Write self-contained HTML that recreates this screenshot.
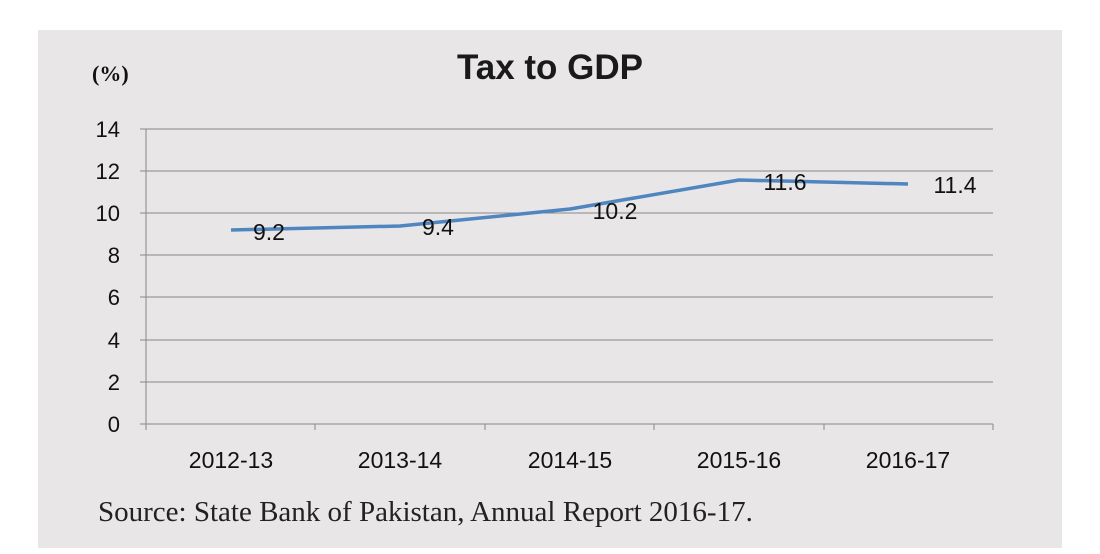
<!DOCTYPE html>
<html><head><meta charset="utf-8"><style>
body{margin:0;background:#fff;}
svg{display:block}
</style></head><body>
<svg width="1100" height="554" xmlns="http://www.w3.org/2000/svg">
<rect x="0" y="0" width="1100" height="554" fill="#fff"/>
<rect x="38" y="30" width="1024" height="518" fill="#e8e6e7"/>
<text x="550" y="79" text-anchor="middle" font-family="Liberation Sans, sans-serif" font-weight="bold" font-size="35" fill="#1a1a1a">Tax to GDP</text>
<text x="92" y="81" font-family="Liberation Serif, serif" font-weight="bold" font-size="22" fill="#111">(%)</text>
<g stroke="#888" stroke-width="1">
<line x1="140" y1="129" x2="993" y2="129"/>
<line x1="140" y1="171" x2="993" y2="171"/>
<line x1="140" y1="213" x2="993" y2="213"/>
<line x1="140" y1="255" x2="993" y2="255"/>
<line x1="140" y1="297" x2="993" y2="297"/>
<line x1="140" y1="340" x2="993" y2="340"/>
<line x1="140" y1="382" x2="993" y2="382"/>
<line x1="140" y1="424" x2="993" y2="424"/>
<line x1="146" y1="129" x2="146" y2="430"/>
<line x1="315" y1="424" x2="315" y2="430"/>
<line x1="485" y1="424" x2="485" y2="430"/>
<line x1="654" y1="424" x2="654" y2="430"/>
<line x1="824" y1="424" x2="824" y2="430"/>
<line x1="993" y1="424" x2="993" y2="430"/>
</g>
<g font-family="Liberation Sans, sans-serif" font-size="22" fill="#111" text-anchor="end">
<text x="120" y="137">14</text><text x="120" y="179">12</text><text x="120" y="221">10</text>
<text x="120" y="263">8</text><text x="120" y="305">6</text><text x="120" y="348">4</text>
<text x="120" y="390">2</text><text x="120" y="432">0</text>
</g>
<g font-family="Liberation Sans, sans-serif" font-size="23" fill="#111" text-anchor="middle">
<text x="231" y="468">2012-13</text><text x="400" y="468">2013-14</text><text x="570" y="468">2014-15</text>
<text x="739" y="468">2015-16</text><text x="908" y="468">2016-17</text>
</g>
<polyline points="231,230 400,226 570,209 739,180 908,184" fill="none" stroke="#4f86c0" stroke-width="3.5" stroke-linejoin="round"/>
<g font-family="Liberation Sans, sans-serif" font-size="23" fill="#111" text-anchor="middle">
<text x="269" y="240">9.2</text><text x="438" y="235">9.4</text><text x="615" y="219">10.2</text>
<text x="785" y="190">11.6</text><text x="955" y="193">11.4</text>
</g>
<text x="98" y="521" font-family="Liberation Serif, serif" font-size="29" fill="#222">Source: State Bank of Pakistan, Annual Report 2016-17.</text>
</svg>
</body></html>
